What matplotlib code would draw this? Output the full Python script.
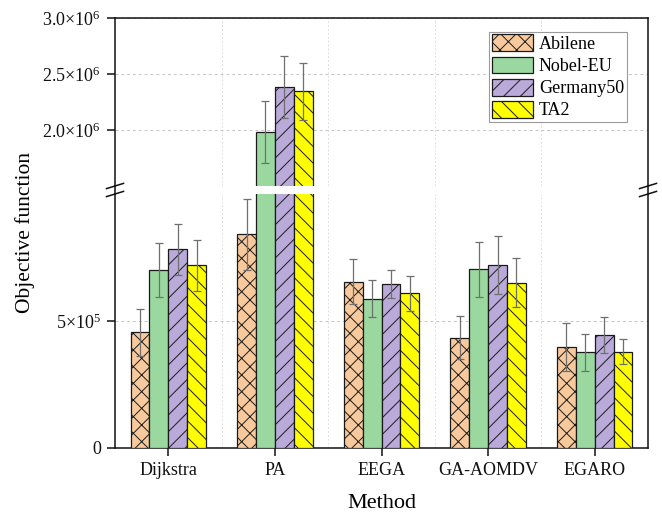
import matplotlib
matplotlib.use("Agg")
import matplotlib.pyplot as plt
from matplotlib.lines import Line2D
import numpy as np

plt.rcParams["font.family"] = ["Liberation Serif", "DejaVu Serif"]
plt.rcParams["mathtext.fontset"] = "custom"
plt.rcParams["mathtext.rm"] = "Liberation Serif"
plt.rcParams["mathtext.it"] = "Liberation Serif:italic"
plt.rcParams["hatch.linewidth"] = 0.7

# ---- data ----
methods = ["Dijkstra", "PA", "EEGA", "GA-AOMDV", "EGARO"]
series_names = ["Abilene", "Nobel-EU", "Germany50", "TA2"]

abilene = [0.455e6, 0.841e6, 0.655e6, 0.434e6, 0.399e6]
abilene_err = [0.093e6, 0.141e6, 0.089e6, 0.084e6, 0.095e6]
nobel_eu = [0.700e6, 1.980e6, 0.587e6, 0.703e6, 0.377e6]
nobel_eu_err = [0.106e6, 0.275e6, 0.073e6, 0.107e6, 0.072e6]
germany50 = [0.783e6, 2.387e6, 0.646e6, 0.719e6, 0.444e6]
germany50_err = [0.100e6, 0.277e6, 0.055e6, 0.114e6, 0.071e6]
ta2 = [0.720e6, 2.346e6, 0.609e6, 0.651e6, 0.379e6]
ta2_err = [0.100e6, 0.256e6, 0.068e6, 0.096e6, 0.050e6]

lower_ticks = [0, 5e5]
lower_ticklabels = ["0", r"$5{\times}10^{5}$"]
upper_ticks = [2.0e6, 2.5e6, 3.0e6]
upper_ticklabels = [r"$2.0{\times}10^{6}$", r"$2.5{\times}10^{6}$", r"$3.0{\times}10^{6}$"]

values = [abilene, nobel_eu, germany50, ta2]
errors = [abilene_err, nobel_eu_err, germany50_err, ta2_err]
colors = ["#F8C99C", "#9BD8A0", "#B9AAD9", "#FFFF00"]
hatches = ["xx", "", "//", "\\\\"]

# ---- layout ----
W, H = 662, 514
fig = plt.figure(figsize=(W / 100, H / 100), dpi=100)

def fx(px):
    return px / W

def fy(py):
    return 1 - py / H

x_left, x_right = 115, 648
y_top, y_up_bot, y_low_top, y_bot = 18, 186, 194, 448

ax_up = fig.add_axes([fx(x_left), fy(y_up_bot), fx(x_right) - fx(x_left), fy(y_top) - fy(y_up_bot)])
ax_lo = fig.add_axes([fx(x_left), fy(y_bot), fx(x_right) - fx(x_left), fy(y_low_top) - fy(y_bot)])

x = np.arange(1, len(methods) + 1)
width = 0.177
offsets = (np.arange(len(series_names)) - 1.5) * width

edge = "#1a1a1a"
for ax in (ax_up, ax_lo):
    for i, name in enumerate(series_names):
        ax.bar(x + offsets[i], values[i], width, color=colors[i], edgecolor=edge,
               linewidth=0.9, hatch=hatches[i], label=name, zorder=3)
        ax.errorbar(x + offsets[i], values[i], yerr=errors[i], fmt="none",
                    ecolor="#6f6f6f", elinewidth=0.9, capsize=2.7, capthick=0.9, zorder=4)
    ax.set_xlim(0.5, 5.5)
    ax.set_xticks(x)
    ax.set_xticks(x[:-1] + 0.5, minor=True)
    ax.grid(True, which="minor", axis="x", color="#dedede", linestyle=(0, (2, 2)), linewidth=0.7, zorder=0)
    ax.grid(True, which="major", axis="y", color="#c4c4c4", linestyle=(0, (3, 3)), linewidth=0.7, zorder=0)
    ax.tick_params(axis="x", which="minor", length=0)
    for s in ax.spines.values():
        s.set_linewidth(1.1)
        s.set_color("#111111")
    ax.tick_params(axis="both", which="major", direction="out", length=6, width=1.1,
                   labelsize=13, pad=4, colors="#111111")

ax_lo.set_ylim(0, 1.0e6)
ax_up.set_ylim(1.5e6, 3.0e6)

ax_lo.set_yticks(lower_ticks)
ax_lo.set_yticklabels(lower_ticklabels)
ax_up.set_yticks(upper_ticks)
ax_up.set_yticklabels(upper_ticklabels)

ax_lo.set_xticklabels(methods)
ax_up.tick_params(axis="x", which="both", bottom=False, labelbottom=False)
ax_lo.spines["top"].set_visible(False)
ax_up.spines["bottom"].set_visible(False)

# continuous side spines across the break
for px in (x_left, x_right):
    fig.add_artist(Line2D([fx(px), fx(px)], [fy(y_up_bot), fy(y_low_top)],
                          transform=fig.transFigure, color="#111111", linewidth=1.1))

# break marks
for px in (x_left, x_right):
    for py in (y_up_bot, y_low_top):
        fig.add_artist(Line2D([fx(px - 8.5), fx(px + 8.5)], [fy(py + 2.6), fy(py - 2.6)],
                              transform=fig.transFigure, color="#111111", linewidth=1.1))

leg = ax_up.legend(loc="upper right", bbox_to_anchor=(0.96, 0.918), borderaxespad=0,
                   fontsize=13, handlelength=2.25, handleheight=1.05, labelspacing=0.2,
                   handletextpad=0.35, borderpad=0.15, fancybox=False, framealpha=1,
                   edgecolor="#9a9a9a")
leg.get_frame().set_linewidth(0.8)
leg.set_zorder(10)

fig.text(fx(25), fy(233), "Objective function", rotation=90, ha="center", va="center", fontsize=15.5)
fig.text(fx(381.5), fy(503), "Method", ha="center", va="center", fontsize=16)

fig.savefig("out.png", dpi=100)
